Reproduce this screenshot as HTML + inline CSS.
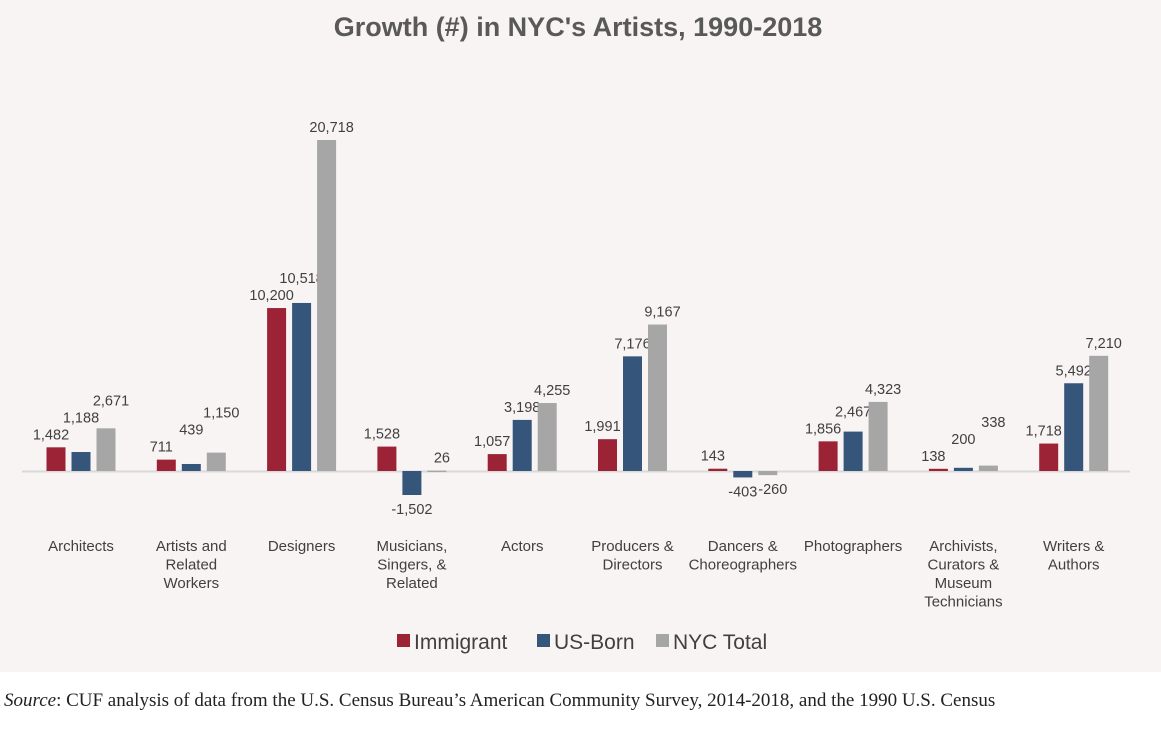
<!DOCTYPE html>
<html><head><meta charset="utf-8"><style>
html,body{margin:0;padding:0;background:#fff;}
body{width:1161px;height:730px;position:relative;overflow:hidden;font-family:"Liberation Sans",sans-serif;}
#bg{position:absolute;left:0;top:0;width:1161px;height:672px;background:#f9f4f4;}
#src{position:absolute;left:4px;top:690px;font-family:"Liberation Serif",serif;font-size:19px;color:#222;white-space:nowrap;}
</style></head><body>
<div id="bg"></div>
<svg id="chart" width="1161" height="672" style="position:absolute;left:0;top:0">
<text x="578" y="36" text-anchor="middle" font-size="27" font-weight="bold" fill="#595959">Growth (#) in NYC's Artists, 1990-2018</text>
<line x1="22" x2="1130" y1="471.5" y2="471.5" stroke="#d9d9d9" stroke-width="2"/>
<g id="bars"></g>
<g id="legend">
<rect x="397" y="634" width="13" height="13" fill="#9b2335"/>
<text x="414" y="649" font-size="21" fill="#404040">Immigrant</text>
<rect x="537" y="634" width="13" height="13" fill="#35557a"/>
<text x="554" y="649" font-size="21" fill="#404040">US-Born</text>
<rect x="656" y="634" width="13" height="13" fill="#a6a6a6"/>
<text x="673" y="649" font-size="21" fill="#404040">NYC Total</text>
</g>
</svg>
<div id="src"><i>Source</i>: CUF analysis of data from the U.S. Census Bureau’s American Community Survey, 2014-2018, and the 1990 U.S. Census</div>
<script>
const categories=[["Architects"],["Artists and","Related","Workers"],["Designers"],["Musicians,","Singers, &","Related"],["Actors"],["Producers &","Directors"],["Dancers &","Choreographers"],["Photographers"],["Archivists,","Curators &","Museum","Technicians"],["Writers &","Authors"]];
const immigrant=[1482,711,10200,1528,1057,1991,143,1856,138,1718];
const usBorn=[1188,439,10518,-1502,3198,7176,-403,2467,200,5492];
const nycTotal=[2671,1150,20718,26,4255,9167,-260,4323,338,7210];
const seriesNames=["immigrant","us-born","nyc-total"];
const colors=["#9b2335","#35557a","#a6a6a6"];
const NS="http://www.w3.org/2000/svg";
const g=document.getElementById("bars");
const y0=471, k=331/20718;
function yScale(v){return y0-v*k;}
function xCenter(i){return 81+i*110.3;}
const series=[immigrant,usBorn,nycTotal];
function fmt(v){return (v<0?"-":"")+Math.abs(v).toLocaleString("en-US");}
categories.forEach((cat,i)=>{
  let prevY=null;
  series.forEach((s,j)=>{
    const v=s[i];
    const x=xCenter(i)+(j-1)*25-9.5;
    const top=Math.min(yScale(v),y0), h=Math.max(Math.abs(yScale(v)-y0),1.5);
    const r=document.createElementNS(NS,"rect");
    r.setAttribute("x",x);r.setAttribute("y",top);r.setAttribute("width",19);r.setAttribute("height",h);r.setAttribute("fill",colors[j]);
    
    
    g.appendChild(r);
    let ly;
    if(v>=0){
      ly=yScale(v)-8;
      if(prevY!==null && ly>prevY-17) ly=prevY-17;
      prevY=ly;
    } else {
      ly=yScale(v)+19;
      prevY=null;
    }
    const t=document.createElementNS(NS,"text");
    t.setAttribute("x",x+9.5+(j-1)*5);t.setAttribute("y",ly);t.setAttribute("text-anchor","middle");
    t.setAttribute("font-size","14.5");t.setAttribute("fill","#404040");
    t.textContent=fmt(v);
    
    
    g.appendChild(t);
  });
  cat.forEach((line,l)=>{
    const t=document.createElementNS(NS,"text");
    t.setAttribute("x",xCenter(i));t.setAttribute("y",551+l*18.5);t.setAttribute("text-anchor","middle");
    t.setAttribute("font-size","15");t.setAttribute("fill","#404040");
    t.textContent=line;
    
    
    g.appendChild(t);
  });
});
</script>
</body></html>
